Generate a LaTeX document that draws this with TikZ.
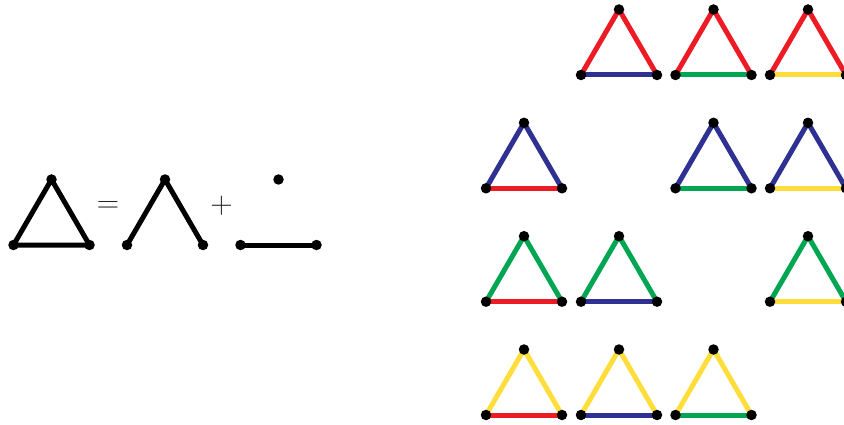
\documentclass[tikz,border=0pt]{standalone}
\definecolor{tred}{HTML}{ED1C24}
\definecolor{tblue}{HTML}{2E3192}
\definecolor{tgreen}{HTML}{00A651}
\definecolor{tyellow}{HTML}{FFDE3B}
\tikzset{
  vdot/.style={circle,fill=black,inner sep=0pt,minimum size=10.5pt},
  edge/.style={line width=5pt},
  sym/.style={inner sep=0pt,font=\fontsize{31}{31}\selectfont,text=black!85}
}
\newcommand{\ctri}[5]{%
  \coordinate (#1-l) at (#2,#3);
  \coordinate (#1-a) at (#2+38,#3-65.5);
  \coordinate (#1-r) at (#2+76,#3);
  \draw[edge,draw=#4] (#1-l) -- (#1-a) -- (#1-r);
  \draw[edge,draw=#5] (#1-l) -- (#1-r);
  \node[vdot] (#1-L) at (#1-l) {};
  \node[vdot] (#1-A) at (#1-a) {};
  \node[vdot] (#1-R) at (#1-r) {};
}
\begin{document}
\begin{tikzpicture}[x=1pt,y=-1pt]
\useasboundingbox (0,0) rectangle (844,425);
% left equation
\coordinate (t-l) at (13.5,245);
\coordinate (t-a) at (51.5,179.5);
\coordinate (t-r) at (89.5,245);
\draw[edge,line join=round] (t-l) -- (t-a) -- (t-r) -- cycle;
\node[vdot] (tL) at (t-l) {};
\node[vdot] (tA) at (t-a) {};
\node[vdot] (tR) at (t-r) {};
\node[sym] (eq) at (108,206.5) {=};
\coordinate (w-l) at (127,245);
\coordinate (w-a) at (165,179.5);
\coordinate (w-r) at (203,245);
\draw[edge,line join=round] (w-l) -- (w-a) -- (w-r);
\node[vdot] (wL) at (w-l) {};
\node[vdot] (wA) at (w-a) {};
\node[vdot] (wR) at (w-r) {};
\node[sym] (plus) at (221.5,205.5) {+};
\node[vdot] (pA) at (278.5,179.5) {};
\coordinate (s-l) at (240.5,245);
\coordinate (s-r) at (316.5,245);
\draw[edge] (s-l) -- (s-r);
\node[vdot] (sL) at (s-l) {};
\node[vdot] (sR) at (s-r) {};
% grid of coloured triangles
\ctri{r2}{581}{75}{tred}{tblue}
\ctri{r3}{675.5}{75}{tred}{tgreen}
\ctri{r4}{770}{75}{tred}{tyellow}
\ctri{b1}{486}{188.3}{tblue}{tred}
\ctri{b3}{675.5}{188.3}{tblue}{tgreen}
\ctri{b4}{770}{188.3}{tblue}{tyellow}
\ctri{g1}{486}{301.7}{tgreen}{tred}
\ctri{g2}{581}{301.7}{tgreen}{tblue}
\ctri{g4}{770}{301.7}{tgreen}{tyellow}
\ctri{y1}{486}{415}{tyellow}{tred}
\ctri{y2}{581}{415}{tyellow}{tblue}
\ctri{y3}{675.5}{415}{tyellow}{tgreen}
\end{tikzpicture}
\end{document}
